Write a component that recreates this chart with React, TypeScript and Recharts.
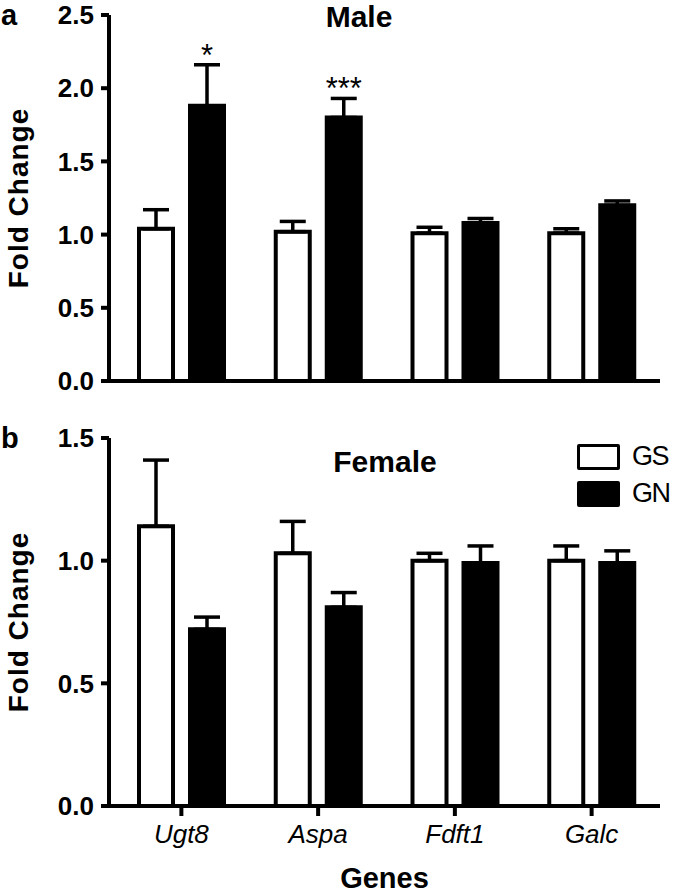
import React from "react";
import { Bar, BarChart, ErrorBar, Label, LabelList, Legend, XAxis, YAxis } from "recharts";

const FONT = '"Liberation Sans", Arial, Helvetica, sans-serif';

const genes = ["Ugt8", "Aspa", "Fdft1", "Galc"];
const groups = ["GS", "GN"];

// panel a - male
const maleGS = [1.04, 1.02, 1.01, 1.01];
const maleGSErr = [0.13, 0.07, 0.04, 0.03];
const maleGN = [1.88, 1.8, 1.08, 1.2];
const maleGNErr = [0.28, 0.13, 0.03, 0.03];
const maleStars = ["*", "***", "", ""];
const maleTicks = [0, 0.5, 1, 1.5, 2, 2.5];

// panel b - female
const femaleGS = [1.14, 1.03, 1.0, 1.0];
const femaleGSErr = [0.27, 0.13, 0.03, 0.06];
const femaleGN = [0.72, 0.81, 0.99, 0.99];
const femaleGNErr = [0.05, 0.06, 0.07, 0.05];
const femaleTicks = [0, 0.5, 1, 1.5];

const makeRows = (gs: number[], gsErr: number[], gn: number[], gnErr: number[], stars?: string[]) =>
  genes.map((g, i) => ({
    gene: g,
    GS: gs[i],
    GN: gn[i],
    gsErr: [0, gsErr[i]],
    gnErr: [0, gnErr[i]],
    star: stars ? stars[i] : "",
  }));

const maleRows = makeRows(maleGS, maleGSErr, maleGN, maleGNErr, maleStars);
const femaleRows = makeRows(femaleGS, femaleGSErr, femaleGN, femaleGNErr);

const axisLine = { stroke: "#000", strokeWidth: 4 };
const tickLine = { stroke: "#000", strokeWidth: 4 };
const yTick = { fill: "#000", fontSize: 26, fontWeight: "bold", fontFamily: FONT };
const xTick = { fill: "#000", fontSize: 26, fontStyle: "italic", fontFamily: FONT };

const foldLabel = (props: any) => {
  const vb = props.viewBox || {};
  const cy = vb.y + vb.height / 2;
  return (
    <text
      x={28}
      y={cy}
      transform={`rotate(-90, 28, ${cy})`}
      textAnchor="middle"
      fontFamily={FONT}
      fontWeight="bold"
      fontSize={28}
      letterSpacing={1}
      fill="#000"
    >
      Fold Change
    </text>
  );
};

// star sits just above the error bar cap
const starLabel = (means: number[], errs: number[]) => (props: any) => {
  const { x, y, width, height, value } = props;
  if (!value) return null;
  const i = props.index ?? genes.indexOf(props.payload?.gene);
  const top = y - (errs[i] * height) / means[i];
  return (
    <text x={x + width / 2} y={top + 1} textAnchor="middle" fontFamily={FONT} fontSize={31} fill="#000">
      {value}
    </text>
  );
};

const legendContent = (props: any) => {
  const items = [...(props.payload || [])].sort(
    (a: any, b: any) => groups.indexOf(a.value) - groups.indexOf(b.value)
  );
  return (
    <div style={{ fontFamily: FONT }}>
      {items.map((p: any) => (
        <div key={p.value} style={{ display: "flex", alignItems: "center", height: 37 }}>
          <div
            style={{
              width: 37,
              height: 20,
              border: "3px solid #000",
              borderRadius: 2,
              background: p.color,
            }}
          />
          <span style={{ marginLeft: 12, fontSize: 27, letterSpacing: -1.5, color: "#000" }}>{p.value}</span>
        </div>
      ))}
    </div>
  );
};

export default function App() {
  return (
    <div style={{ position: "absolute", left: 0, top: 0, width: 677, height: 894, background: "#fff" }}>
      <div style={{ position: "absolute", left: 0, top: 0 }}>
        <BarChart
          width={677}
          height={400}
          data={maleRows}
          margin={{ top: 15, right: 17, bottom: 18, left: 0 }}
          barSize={34}
          barGap={17}
        >
          <XAxis dataKey="gene" height={1} tick={false} tickLine={false} axisLine={axisLine} padding={{ left: 4, right: 0 }} />
          <YAxis
            width={109}
            domain={[0, 2.5]}
            ticks={maleTicks}
            interval={0}
            tickFormatter={(v: number) => v.toFixed(1)}
            tick={yTick}
            tickLine={tickLine}
            axisLine={axisLine}
            tickSize={8}
            tickMargin={7}
          >
            <Label content={foldLabel} />
          </YAxis>
          <Bar dataKey="GS" name="GS" fill="#fff" stroke="#000" strokeWidth={4} isAnimationActive={false}>
            <ErrorBar dataKey="gsErr" width={13} stroke="#000" strokeWidth={3.5} direction="y" />
          </Bar>
          <Bar dataKey="GN" name="GN" fill="#000" stroke="#000" strokeWidth={4} isAnimationActive={false}>
            <ErrorBar dataKey="gnErr" width={13} stroke="#000" strokeWidth={3.5} direction="y" />
            <LabelList dataKey="star" content={starLabel(maleGN, maleGNErr)} />
          </Bar>
        </BarChart>
      </div>

      <div style={{ position: "absolute", left: 0, top: 400 }}>
        <BarChart
          width={677}
          height={494}
          data={femaleRows}
          margin={{ top: 38, right: 17, bottom: 0, left: 0 }}
          barSize={34}
          barGap={17}
        >
          <XAxis
            dataKey="gene"
            height={88}
            tick={xTick}
            tickLine={tickLine}
            axisLine={axisLine}
            tickSize={10}
            tickMargin={9}
            padding={{ left: 4, right: 0 }}
          >
            <Label
              value="Genes"
              position="insideBottom"
              offset={6}
              fill="#000"
              fontSize={29}
              fontWeight="bold"
              fontFamily={FONT}
            />
          </XAxis>
          <YAxis
            width={109}
            domain={[0, 1.5]}
            ticks={femaleTicks}
            interval={0}
            tickFormatter={(v: number) => v.toFixed(1)}
            tick={yTick}
            tickLine={tickLine}
            axisLine={axisLine}
            tickSize={8}
            tickMargin={7}
          >
            <Label content={foldLabel} />
          </YAxis>
          <Legend
            layout="vertical"
            align="center"
            verticalAlign="middle"
            content={legendContent}
            wrapperStyle={{ position: "absolute", left: 577, top: 38, width: 100 }}
          />
          <Bar dataKey="GS" name="GS" fill="#fff" stroke="#000" strokeWidth={4} isAnimationActive={false}>
            <ErrorBar dataKey="gsErr" width={13} stroke="#000" strokeWidth={3.5} direction="y" />
          </Bar>
          <Bar dataKey="GN" name="GN" fill="#000" stroke="#000" strokeWidth={4} isAnimationActive={false}>
            <ErrorBar dataKey="gnErr" width={13} stroke="#000" strokeWidth={3.5} direction="y" />
          </Bar>
        </BarChart>
      </div>

      <svg width={677} height={894} style={{ position: "absolute", left: 0, top: 0, pointerEvents: "none" }}>
        <g fontFamily={FONT} fontWeight="bold" fill="#000">
          <text x={1} y={25} fontSize={29}>a</text>
          <text x={1} y={448} fontSize={29}>b</text>
          <text x={359} y={27} fontSize={30} textAnchor="middle">Male</text>
          <text x={385} y={472} fontSize={30} textAnchor="middle">Female</text>
        </g>
      </svg>
    </div>
  );
}
